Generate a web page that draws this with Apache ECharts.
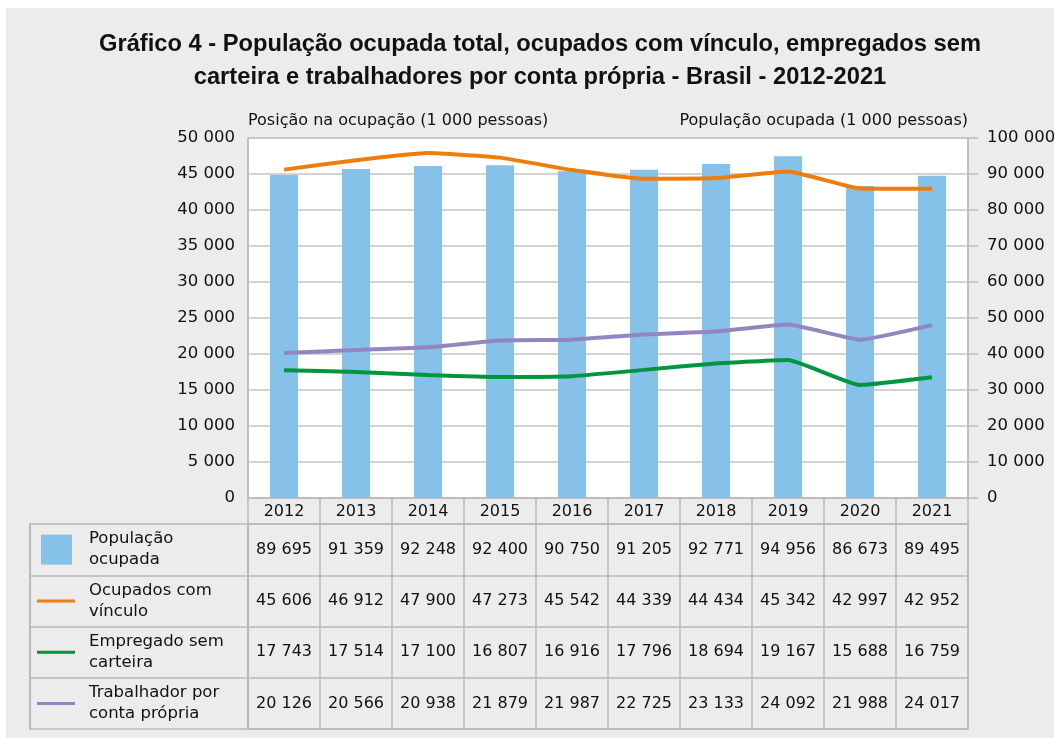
<!DOCTYPE html>
<html>
<head>
<meta charset="utf-8">
<script src="https://cdn.jsdelivr.net/npm/echarts@6/dist/echarts.min.js"></script>
<style>
  html, body { margin: 0; padding: 0; background: #fff; }
  #chart { position: absolute; left: 0; top: 0; width: 1054px; height: 738px; }
</style>
</head>
<body>
<div id="chart"></div>
<script>
/* Gráfico 4 - população ocupada, 2012-2021 */

const anos = ["2012","2013","2014","2015","2016","2017","2018","2019","2020","2021"];

const populacaoOcupada = [89695, 91359, 92248, 92400, 90750, 91205, 92771, 94956, 86673, 89495];
const ocupadosComVinculo = [45606, 46912, 47900, 47273, 45542, 44339, 44434, 45342, 42997, 42952];
const empregadoSemCarteira = [17743, 17514, 17100, 16807, 16916, 17796, 18694, 19167, 15688, 16759];
const contaPropria = [20126, 20566, 20938, 21879, 21987, 22725, 23133, 24092, 21988, 24017];

const linhasTabela = ["População\nocupada", "Ocupados com\nvínculo", "Empregado sem\ncarteira", "Trabalhador por\nconta própria"];

const FONTE = "DejaVu Sans";
const CINZA = "#b9b9b9";
const TEXTO = "#111";

function fmt(v){
    return String(v).replace(/\B(?=(\d{3})+(?!\d))/g, " ");
}

const chart = echarts.init(document.getElementById("chart"));

const valoresTabela = [populacaoOcupada, ocupadosComVinculo, empregadoSemCarteira, contaPropria];

// valores da tabela: uma série de rótulos por linha, nos eixos de categoria da grade de baixo
const seriesTabela = valoresTabela.map((valores, r) => ({
    type: "scatter",
    xAxisIndex: 1,
    yAxisIndex: 2,
    silent: true,
    symbolSize: 1,
    itemStyle: { color: "transparent", opacity: 1 },
    label: {
        show: true,
        position: "inside",
        fontFamily: FONTE,
        fontSize: 16,
        color: TEXTO,
        opacity: 1,
        textBorderWidth: 0,
        formatter: p => fmt(p.value[2])
    },
    data: valores.map((v, i) => [i, r, v])
}));

const icones = ["{sp|}{bar| }", "{laranja| }", "{verde| }", "{roxo| }"];

const option = {
    animation: false,
    backgroundColor: "#fff",
    graphic: [{
        type: "rect",
        silent: true,
        z: -10,
        shape: { x: 6, y: 8, width: 1054, height: 738 },
        style: { fill: "#ececec" }
    }],
    title: {
        text: "Gráfico 4 - População ocupada total, ocupados com vínculo, empregados sem\ncarteira e trabalhadores por conta própria - Brasil - 2012-2021",
        left: 535,
        top: 23,
        textAlign: "center",
        textStyle: {
            fontFamily: "Liberation Sans",
            fontWeight: "bold",
            fontSize: 23.7,
            lineHeight: 33,
            color: TEXTO
        }
    },
    grid: [
        { left: 248, right: 86, top: 138, height: 360, outerBoundsMode: "none", containLabel: false, show: true, backgroundColor: "#fff", borderColor: CINZA, borderWidth: 1 },
        { left: 248, right: 86, top: 524, height: 205, outerBoundsMode: "none", containLabel: false, show: true, backgroundColor: "transparent", borderColor: CINZA, borderWidth: 1.5 }
    ],
    xAxis: [
        {
            type: "category",
            gridIndex: 0,
            data: anos,
            boundaryGap: true,
            axisLine: { lineStyle: { color: CINZA, width: 1.5 } },
            axisTick: { show: true, interval: 0, length: 26, lineStyle: { color: CINZA, width: 1.5 } },
            axisLabel: { interval: 0, margin: 6, fontFamily: FONTE, fontSize: 16, color: TEXTO }
        },
        {
            type: "category",
            gridIndex: 1,
            data: anos,
            boundaryGap: true,
            axisLine: { show: false },
            axisTick: { show: false },
            axisLabel: { show: false },
            splitLine: { show: true, interval: 0, lineStyle: { color: CINZA, width: 1.5 } }
        }
    ],
    yAxis: [
        {
            type: "value",
            gridIndex: 0,
            min: 0,
            max: 50000,
            interval: 5000,
            name: "Posição na ocupação (1 000 pessoas)",
            nameLocation: "end",
            nameGap: 17,
            nameTextStyle: { align: "left", verticalAlign: "middle", fontFamily: FONTE, fontSize: 16, color: TEXTO },
            axisLine: { show: true, lineStyle: { color: CINZA, width: 1.5 } },
            axisTick: { show: false },
            axisLabel: { margin: 13, formatter: fmt, fontFamily: FONTE, fontSize: 16.5, color: TEXTO },
            splitLine: { lineStyle: { color: "#c4c4c4", width: 1.5 } }
        },
        {
            type: "value",
            gridIndex: 0,
            position: "right",
            min: 0,
            max: 100000,
            interval: 10000,
            name: "População ocupada (1 000 pessoas)",
            nameLocation: "end",
            nameGap: 17,
            nameTextStyle: { align: "right", verticalAlign: "middle", fontFamily: FONTE, fontSize: 16, color: TEXTO },
            axisLine: { show: true, lineStyle: { color: CINZA, width: 1.5 } },
            axisTick: { show: true, length: 10, lineStyle: { color: CINZA, width: 1.5 } },
            axisLabel: { margin: 19, formatter: fmt, fontFamily: FONTE, fontSize: 16.5, color: TEXTO },
            splitLine: { show: false }
        },
        {
            type: "category",
            gridIndex: 1,
            inverse: true,
            data: linhasTabela,
            boundaryGap: true,
            axisLine: { show: true, lineStyle: { color: CINZA, width: 1.5 } },
            axisTick: { show: true, interval: 0, length: 218, lineStyle: { color: CINZA, width: 1.5 } },
            axisLabel: { interval: 0, align: "left", margin: 159, lineHeight: 21, fontFamily: FONTE, fontSize: 16.5, color: TEXTO },
            splitLine: { show: true, interval: 0, lineStyle: { color: CINZA, width: 1.5 } }
        },
        {
            type: "category",
            gridIndex: 1,
            inverse: true,
            position: "left",
            offset: 218,
            data: linhasTabela,
            boundaryGap: true,
            axisLine: { show: true, lineStyle: { color: CINZA, width: 2 } },
            axisTick: { show: false },
            axisLabel: {
                interval: 0,
                inside: true,
                margin: 7,
                formatter: (v, i) => icones[i],
                rich: {
                    sp: { width: 4, height: 2 },
                    bar: { width: 31, height: 30, backgroundColor: "#85c1e9" },
                    laranja: { width: 38, height: 3, backgroundColor: "#ef7d0b" },
                    verde: { width: 38, height: 3, backgroundColor: "#00963f" },
                    roxo: { width: 38, height: 3, backgroundColor: "#9386c0" }
                }
            },
            splitLine: { show: false }
        }
    ],
    series: [
        {
            name: "População ocupada",
            type: "bar",
            xAxisIndex: 0,
            yAxisIndex: 1,
            barWidth: 28,
            itemStyle: { color: "#85c1e9" },
            data: populacaoOcupada
        },
        {
            name: "Ocupados com vínculo",
            type: "line",
            xAxisIndex: 0,
            yAxisIndex: 0,
            symbol: "none",
            smooth: 0.12,
            lineStyle: { color: "#ef7d0b", width: 4 },
            data: ocupadosComVinculo
        },
        {
            name: "Empregado sem carteira",
            type: "line",
            xAxisIndex: 0,
            yAxisIndex: 0,
            symbol: "none",
            smooth: 0.12,
            lineStyle: { color: "#00963f", width: 4 },
            data: empregadoSemCarteira
        },
        {
            name: "Trabalhador por conta própria",
            type: "line",
            xAxisIndex: 0,
            yAxisIndex: 0,
            symbol: "none",
            smooth: 0.12,
            lineStyle: { color: "#9386c0", width: 4 },
            data: contaPropria
        }
    ].concat(seriesTabela)
};

chart.setOption(option);
</script>
</body>
</html>
